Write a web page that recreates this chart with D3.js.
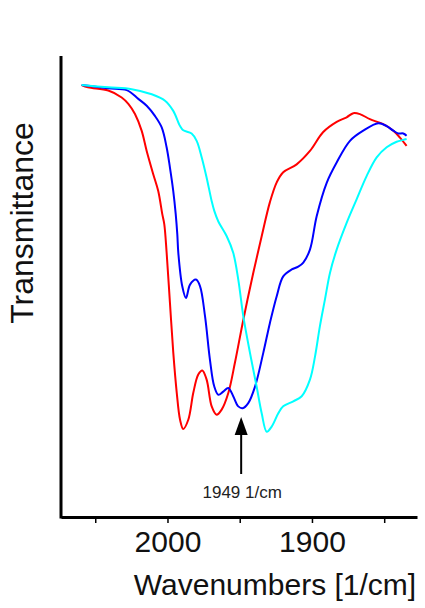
<!DOCTYPE html>
<html>
<head>
<meta charset="utf-8">
<script src="https://cdn.jsdelivr.net/npm/d3@7"></script>
<style>
  body { margin: 0; background: #fff; }
  svg { display: block; font-family: "Liberation Sans", Arial, sans-serif; }
</style>
</head>
<body>
<div id="chart"></div>
<script>
// [wavenumber, transmittance]
var redData = [
  [2059.4, 93.7], [2055.0, 93.2], [2041.0, 92.5], [2031.7, 91.0], [2027.1, 89.6],
  [2022.5, 87.4], [2017.9, 83.8], [2014.4, 79.4], [2009.8, 74.3], [2006.4, 70.7],
  [2003.6, 65.7], [2002.2, 63.5], [2000.6, 57.4], [1998.3, 46.5], [1996.0, 35.7],
  [1993.6, 27.0], [1991.3, 21.1], [1989.1, 19.1], [1985.6, 21.1], [1982.1, 27.0],
  [1978.7, 30.9], [1975.9, 31.8], [1972.9, 29.8], [1969.4, 24.0], [1966.0, 22.2],
  [1962.5, 23.3], [1957.9, 26.9], [1953.3, 33.5], [1947.5, 42.8], [1940.6, 53.0],
  [1934.8, 60.9], [1929.1, 68.3], [1924.4, 72.6], [1919.9, 74.8], [1910.6, 76.5],
  [1901.4, 79.4], [1892.2, 83.5], [1882.9, 85.7], [1876.0, 86.7], [1871.4, 87.6],
  [1866.8, 87.4], [1859.9, 86.3], [1850.7, 85.2], [1843.7, 83.8], [1839.1, 82.3],
  [1834.5, 80.5]
]
var blueData = [
  [2059.4, 93.7], [2041.0, 93.0], [2028.2, 92.6], [2020.2, 90.7], [2014.4, 89.2],
  [2008.7, 87.0], [2004.0, 84.5], [2000.6, 80.2], [1998.3, 75.8], [1996.0, 70.7],
  [1994.3, 65.7], [1993.2, 61.3], [1992.5, 57.3], [1989.8, 50.1], [1987.2, 47.5],
  [1984.4, 50.4], [1980.3, 51.5], [1977.5, 50.1], [1974.0, 43.5], [1970.6, 34.1],
  [1967.6, 28.3], [1964.8, 26.5], [1961.4, 27.2], [1957.9, 28.0], [1954.5, 26.2],
  [1951.0, 24.0], [1948.0, 23.6], [1944.1, 24.7], [1939.4, 28.3], [1933.7, 35.6],
  [1929.1, 42.1], [1924.4, 47.9], [1919.9, 52.2], [1914.0, 53.7], [1909.5, 54.3],
  [1906.0, 55.2], [1901.4, 58.0], [1896.7, 65.3], [1889.8, 72.5], [1882.9, 76.9],
  [1873.7, 81.6], [1864.5, 83.8], [1854.1, 85.4], [1848.3, 84.8], [1843.7, 83.8],
  [1840.3, 83.2], [1836.8, 83.2], [1834.5, 82.7]
]
var cyanData = [
  [2059.4, 93.7], [2041.0, 93.2], [2024.8, 92.8], [2010.9, 91.7], [2001.7, 90.3],
  [1996.0, 88.1], [1991.3, 84.8], [1989.1, 83.9], [1983.3, 83.2], [1979.8, 81.6],
  [1976.3, 78.0], [1972.9, 73.6], [1969.4, 68.5], [1967.6, 66.4], [1964.8, 64.1],
  [1959.0, 60.9], [1954.5, 57.3], [1951.0, 51.5], [1947.5, 43.5], [1942.9, 35.6],
  [1938.3, 28.3], [1934.8, 22.5], [1931.3, 18.5], [1927.9, 19.6], [1923.3, 22.5],
  [1919.9, 24.0], [1912.9, 25.1], [1907.1, 26.2], [1901.4, 29.8], [1897.9, 34.8],
  [1894.5, 41.4], [1891.0, 47.2], [1887.5, 53.0], [1882.9, 58.0], [1876.0, 63.8],
  [1869.1, 68.9], [1862.1, 74.0], [1855.2, 78.0], [1848.3, 80.2], [1841.4, 81.4],
  [1836.8, 81.8], [1834.5, 82.0]
]
var seriesNames = ['red', 'blue', 'cyan']
var seriesColors = ['#ff0000', '#0000ff', '#00ffff']
var xTicks = [2050, 2000, 1950, 1900, 1850]
var xTickLabels = ['', '2000', '', '1900', '']
var peakWave = 1949
var peakLabel = '1949 1/cm'
var xTitle = 'Wavenumbers [1/cm]'
var yTitle = 'Transmittance'

var width = 425,
    height = 608,
    margin = {top: 56, bottom: 91, left: 61, right: 8}

var svg = null, xScale = null, yScale = null

function createSvg () {
  svg = d3.select('#chart').append('svg').attr('width', width).attr('height', height)
}

function createScale () {
  // wavenumbers run right to left
  xScale = d3.scaleLinear().domain([2073.7, 1827.3]).range([margin.left, width - margin.right])
  yScale = d3.scaleLinear().domain([0, 100]).range([height - margin.bottom, margin.top])
}

function renderLines () {
  var line = d3.line()
    .x(d => xScale(d[0]))
    .y(d => yScale(d[1]))
    .curve(d3.curveCatmullRom.alpha(0.5))
  var all = [redData, blueData, cyanData]
  all.forEach((data, k) => {
    svg.append('path')
      .datum(data)
      .attr('class', 'line ' + seriesNames[k])
      .attr('d', line)
      .attr('fill', 'none')
      .attr('stroke', seriesColors[k])
      .attr('stroke-width', 2)
      .attr('stroke-linejoin', 'round')
  })
}

function renderAxis () {
  var y0 = height - margin.bottom
  var axis = d3.axisBottom(xScale)
    .tickValues(xTicks)
    .tickFormat((d, i) => xTickLabels[i])
    .tickSize(6)
    .tickSizeOuter(0)
    .tickPadding(8)
  var g = svg.append('g')
    .attr('class', 'x axis')
    .attr('transform', 'translate(0,' + y0 + ')')
    .call(axis)
  g.select('.domain').attr('stroke', '#000').attr('stroke-width', 3)
  g.selectAll('.tick line').attr('stroke', '#000').attr('stroke-width', 1.5)
  g.selectAll('.tick text').attr('font-size', 30).attr('fill', '#111')
    .attr('font-family', '"Liberation Sans", Arial, sans-serif')

  // left axis, no ticks
  svg.append('line')
    .attr('x1', margin.left).attr('x2', margin.left)
    .attr('y1', margin.top).attr('y2', y0 + 1.5)
    .attr('stroke', '#000').attr('stroke-width', 3)

  svg.append('text')
    .text(xTitle)
    .attr('x', 275).attr('y', 595)
    .attr('text-anchor', 'middle')
    .attr('font-size', 30)
    .attr('fill', '#111')

  svg.append('text')
    .text(yTitle)
    .attr('transform', 'translate(33,223) rotate(-90)')
    .attr('text-anchor', 'middle')
    .attr('font-size', 32)
    .attr('fill', '#111')
}

function renderPeak () { // arrow pointing at the peak
  var x = xScale(peakWave)
  var tip = 417, base = 435, bottom = 474
  svg.append('line')
    .attr('x1', x).attr('x2', x)
    .attr('y1', base - 2).attr('y2', bottom)
    .attr('stroke', '#000').attr('stroke-width', 2)
  svg.append('path')
    .attr('d', 'M' + x + ',' + tip + 'L' + (x + 6.5) + ',' + base + 'L' + (x - 6.5) + ',' + base + 'Z')
    .attr('fill', '#000')
  svg.append('text')
    .text(peakLabel)
    .attr('x', x + 1).attr('y', 498)
    .attr('text-anchor', 'middle')
    .attr('font-size', 17)
    .attr('fill', '#222')
}

function init () {
  createSvg()
  createScale()
  renderLines()
  renderAxis()
  renderPeak()
}
init()
</script>
</body>
</html>
